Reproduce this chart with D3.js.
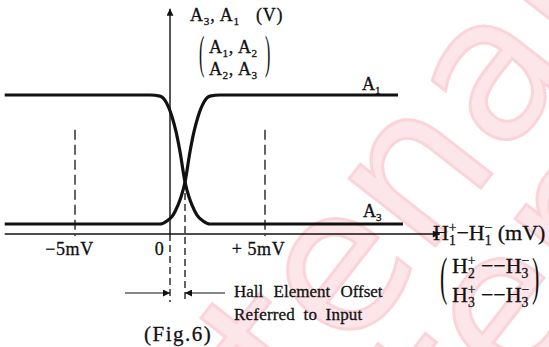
<!DOCTYPE html>
<html>
<head>
<meta charset="utf-8">
<script src="https://cdn.jsdelivr.net/npm/d3@7"></script>
<style>
  html, body { margin: 0; padding: 0; background: #fff; }
  svg { display: block; font-family: "Liberation Serif", "DejaVu Serif", serif; }
  text.ink { stroke: #111; stroke-width: 0.3; }
</style>
</head>
<body>
<svg id="chart" width="549" height="347"></svg>
<script>
// Input difference H1+ - H1- (mV) and the two comparator outputs (V)
const a1Input  = [-8.7, -0.53, -0.16, 0.16, 0.42, 0.58, 0.79, 1.05, 1.26, 1.47, 1.79, 2.1, 2.63, 12.0];
const a1Output = [0.36, 0.36, 0.47, 0.68, 1.04, 1.33, 1.87, 2.95, 3.67, 4.21, 4.75, 4.96, 5.0, 5.0];
const a3Input  = [-8.7, -1.05, -0.53, -0.21, 0.11, 0.32, 0.53, 0.79, 1.0, 1.16, 1.42, 1.74, 2.1, 12.26];
const a3Output = [5.0, 5.0, 4.96, 4.75, 4.21, 3.67, 2.95, 1.87, 1.33, 1.04, 0.68, 0.47, 0.36, 0.36];

const seriesNames = ["A1", "A3"];
const xTickValues = [-5, 0, 5];
const xTickLabels = ["\u22125mV", "0", "+ 5mV"];
const hallOffset = 0.79;          // mV, where the two outputs cross
const xAxisExtent = [-8.7, 14.2]; // mV
const yAxisExtent = [0, 8.1];     // V
const guideTop = 3.75;            // V, top of the +/-5 mV guides
const stampWord = "Datenarchiv";

const svg = d3.select("#chart");
const ink = "#111";

const x = d3.scaleLinear().domain([-5, 5]).range([75, 265]);
const y = d3.scaleLinear().domain([0, 5]).range([234, 95]);

// ---------- faint diagonal stamp behind the drawing ----------
[[130, 637], [296, 677]].forEach(([px, py]) => {
  svg.append("text")
    .attr("transform", `translate(${px},${py}) rotate(-52)`)
    .attr("font-family", "DejaVu Sans")
    .attr("font-size", 200)
    .attr("fill", "#fde6ea")
    .attr("stroke", "#fbd4da").attr("stroke-width", 3)
    .text(stampWord);
});

// ---------- rich-text helper (sub / superscripts) ----------
function rich(g, parts, size, extra) {
  const t = g.append("text").attr("class", "ink").attr("font-size", size).attr("fill", ink);
  if (extra) Object.entries(extra).forEach(([k, v]) => t.attr(k, v));
  let shift = 0;
  parts.forEach(p => {
    const s = t.append("tspan").text(p.t);
    let target = 0;
    if (p.sub) { s.attr("font-size", size * 0.62); target = size * 0.22; }
    if (p.sup) { s.attr("font-size", size * 0.62); target = -size * 0.38; }
    s.attr("dy", target - shift);
    if (p.dx !== undefined) s.attr("dx", p.dx);
    shift = target;
  });
  return t;
}

// ---------- axes ----------
const defs = svg.append("defs");
defs.append("marker").attr("id", "tip")
  .attr("viewBox", "0 0 10 10").attr("refX", 10).attr("refY", 5)
  .attr("markerWidth", 12).attr("markerHeight", 7).attr("markerUnits", "userSpaceOnUse")
  .attr("orient", "auto")
  .append("path").attr("d", "M0,0 L10,5 L0,10 Z").attr("fill", ink);

// horizontal axis
svg.append("line")
  .attr("x1", x(xAxisExtent[0])).attr("x2", x(xAxisExtent[1]))
  .attr("y1", y(0)).attr("y2", y(0))
  .attr("stroke", ink).attr("stroke-width", 1.7)
  .attr("marker-end", "url(#tip)");

// vertical axis
svg.append("line")
  .attr("x1", x(0)).attr("x2", x(0))
  .attr("y1", y(0)).attr("y2", y(yAxisExtent[1]))
  .attr("stroke", ink).attr("stroke-width", 1.4)
  .attr("marker-end", "url(#tip)");

// tick labels via d3 axis
const xAxis = d3.axisBottom(x)
  .tickValues(xTickValues)
  .tickFormat((d, i) => xTickLabels[i])
  .tickSize(0).tickPadding(8);
const ax = svg.append("g").attr("transform", `translate(0,${y(0)})`).call(xAxis);
ax.select(".domain").remove();
ax.selectAll("text")
  .attr("class", "ink")
  .attr("font-family", "Liberation Serif")
  .attr("font-size", 18).attr("fill", ink).attr("letter-spacing", 0.6)
  .attr("dx", (d) => d === 0 ? -11 : (d < 0 ? -6 : -7))
  .attr("dy", "0.72em");

// dashed guides at -5 and +5 mV
svg.selectAll("line.guide").data([-5, 5]).join("line")
  .attr("class", "guide")
  .attr("x1", d => x(d)).attr("x2", d => x(d))
  .attr("y1", y(guideTop)).attr("y2", y(0) + 2)
  .attr("stroke", ink).attr("stroke-width", 1.3)
  .attr("stroke-dasharray", "10,5");

// dashed drop lines: zero and the offset
const dropBottom = y(0) + 68;
svg.append("line")
  .attr("x1", x(0)).attr("x2", x(0))
  .attr("y1", y(0)).attr("y2", dropBottom)
  .attr("stroke", ink).attr("stroke-width", 1.3).attr("stroke-dasharray", "7,4");
svg.append("line")
  .attr("x1", x(hallOffset)).attr("x2", x(hallOffset))
  .attr("y1", y(1.87)).attr("y2", dropBottom)
  .attr("stroke", ink).attr("stroke-width", 1.3).attr("stroke-dasharray", "7,4");

// offset arrows
const arrowY = y(0) + 59;
svg.append("line")
  .attr("x1", x(0) - 45).attr("x2", x(0))
  .attr("y1", arrowY).attr("y2", arrowY)
  .attr("stroke", ink).attr("stroke-width", 1.2).attr("marker-end", "url(#tip)");
svg.append("line")
  .attr("x1", x(hallOffset) + 40).attr("x2", x(hallOffset))
  .attr("y1", arrowY).attr("y2", arrowY)
  .attr("stroke", ink).attr("stroke-width", 1.2).attr("marker-end", "url(#tip)");

// ---------- output curves ----------
const line = d3.line().x(d => x(d[0])).y(d => y(d[1])).curve(d3.curveMonotoneX);
const series = [
  { name: seriesNames[0], pts: d3.zip(a1Input, a1Output) },
  { name: seriesNames[1], pts: d3.zip(a3Input, a3Output) }
];
svg.selectAll("path.out").data(series).join("path")
  .attr("class", "out")
  .attr("d", d => line(d.pts))
  .attr("fill", "none").attr("stroke", ink)
  .attr("stroke-width", 3.2).attr("stroke-linejoin", "round");

// series labels at the right ends
series.forEach(s => {
  const last = s.pts[s.pts.length - 1];
  const g = svg.append("g")
    .attr("transform", `translate(${x(last[0]) - (s.name === "A1" ? 36 : 40)},${y(last[1]) - (s.name === "A1" ? 5 : 7)})`);
  rich(g, [{ t: "A" }, { t: s.name.slice(1), sub: true }], 18);
});

// ---------- axis titles ----------
rich(svg.append("g").attr("transform", "translate(190,21)"),
  [{ t: "A" }, { t: "3", sub: true }, { t: ", A" }, { t: "1", sub: true }, { t: "\u00a0\u00a0\u00a0(V)" }], 18,
  { "letter-spacing": 0.8 });

const paren = (px, py, size, sy, ch) => svg.append("text")
  .attr("transform", `translate(${px},${py}) scale(1,${sy})`)
  .attr("font-size", size).attr("fill", ink).text(ch);

paren(199, 68, 16, 2.95, "(");
paren(265, 68, 16, 2.95, ")");
rich(svg.append("g").attr("transform", "translate(209,53)"),
  [{ t: "A" }, { t: "1", sub: true }, { t: ", A" }, { t: "2", sub: true }], 18, { "letter-spacing": 0.6 });
rich(svg.append("g").attr("transform", "translate(209,75)"),
  [{ t: "A" }, { t: "2", sub: true }, { t: ", A" }, { t: "3", sub: true }], 18, { "letter-spacing": 0.6 });

// horizontal axis title
function hTerm(n, sign) {
  return [{ t: "H" }, { t: n, sub: true }, { t: sign, sup: true, dx: -7 }];
}
rich(svg.append("g").attr("transform", "translate(433,240)"),
  [...hTerm("1", "+"), { t: "\u2212H" }, { t: "1", sub: true }, { t: "\u2212", sup: true, dx: -7 }, { t: " (mV)" }], 22);

paren(440, 293.5, 22, 2.4, "(");
paren(532, 293.5, 22, 2.4, ")");
rich(svg.append("g").attr("transform", "translate(452,273)"),
  [...hTerm("2", "+"), { t: " \u2212\u2212H" }, { t: "3", sub: true }, { t: "\u2212", sup: true, dx: -7 }], 22);
rich(svg.append("g").attr("transform", "translate(452,302)"),
  [...hTerm("3", "+"), { t: " \u2212\u2212H" }, { t: "3", sub: true }, { t: "\u2212", sup: true, dx: -7 }], 22);

// ---------- annotations ----------
svg.append("text").attr("class", "ink").attr("x", 234).attr("y", 297)
  .attr("font-size", 17).attr("word-spacing", 6).attr("fill", ink)
  .text("Hall Element Offset");
svg.append("text").attr("class", "ink").attr("x", 234).attr("y", 320)
  .attr("font-size", 17).attr("word-spacing", 4).attr("letter-spacing", 0.2).attr("fill", ink)
  .text("Referred to Input");
svg.append("text").attr("class", "ink").attr("x", 144).attr("y", 341)
  .attr("font-size", 21).attr("letter-spacing", 1.5).attr("fill", ink)
  .text("(Fig.6)");
</script>
</body>
</html>
